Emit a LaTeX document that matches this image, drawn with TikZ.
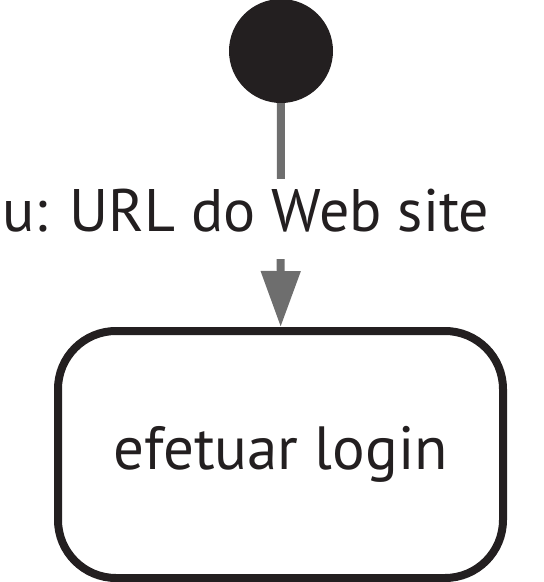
\documentclass[tikz,border=0pt]{standalone}
\usepackage{fontspec}
\setmainfont{PT Sans}
\usetikzlibrary{arrows.meta}
\definecolor{ink}{RGB}{35,31,32}
\definecolor{flow}{RGB}{110,110,110}
\tikzset{
  initstate/.style={circle, fill=ink, minimum size=104pt, inner sep=0pt},
  actstate/.style={draw=ink, line width=8pt, rounded corners=58pt, minimum width=445pt, minimum height=247pt, inner sep=0pt, text=ink, font=\fontsize{61}{70}\selectfont},
  flowline/.style={draw=flow, line width=8pt, -{Triangle[length=56pt,width=38pt]}},
  flowlabel/.style={fill=white, inner sep=0pt, text=ink, text height=52pt, text depth=28pt, font=\fontsize{60}{66}\selectfont}
}
\begin{document}
\begin{tikzpicture}[x=1pt,y=-1pt]
\useasboundingbox (0,0) rectangle (544,582);
\clip (0,0) rectangle (544,582);
\node[initstate] (init) at (281,51) {};
\node[actstate] (act) at (280.5,454.5) {\raisebox{-4pt}{efetuar login}};
\draw[flowline] (init) -- (act);
\node[flowlabel, anchor=base] (lbl) at (246,231) {u: URL do Web site};
\end{tikzpicture}
\end{document}
